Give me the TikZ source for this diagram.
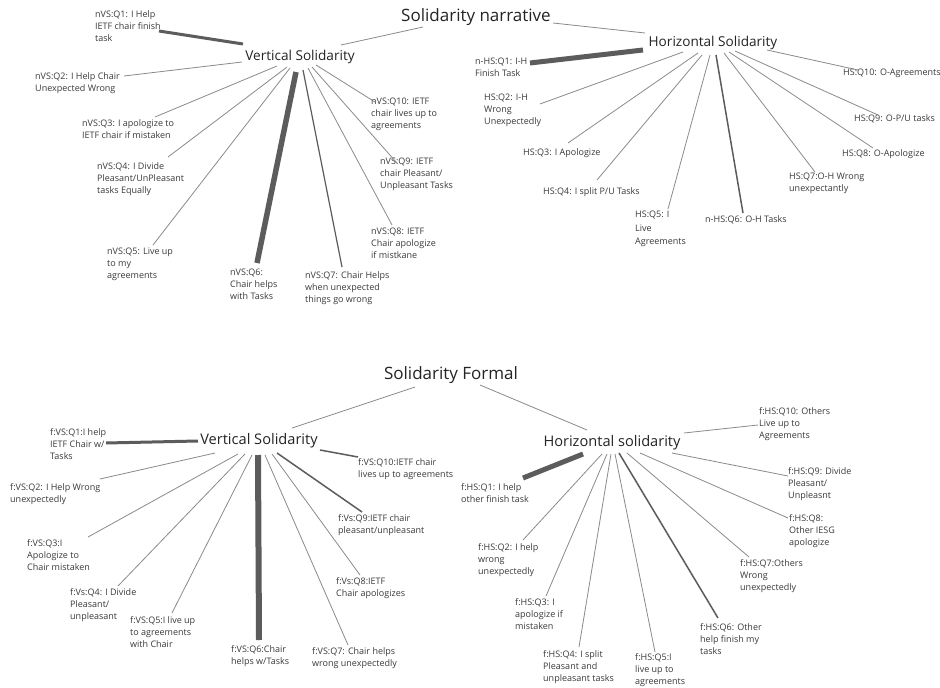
\documentclass[tikz,border=0pt]{standalone}
\usepackage{fontspec}
\setmainfont{Open Sans}
\definecolor{ink}{HTML}{3A3A3A}
\definecolor{titleink}{HTML}{242424}
\definecolor{spokegray}{HTML}{8A8A8A}
\definecolor{spokedark}{HTML}{5C5C5C}
\begin{document}
\begin{tikzpicture}[x=1pt,y=-1pt,
  title/.style={font=\fontsize{17}{20}\selectfont, text=titleink, inner sep=0pt},
  hub/.style={font=\fontsize{13.6}{16}\selectfont, text=titleink, inner sep=0pt},
  hubf/.style={font=\fontsize{14.6}{17}\selectfont, text=titleink, inner sep=0pt},
  lbl/.style={font=\fontsize{9}{12}\selectfont, align=left, anchor=north west, inner sep=0pt, text=ink, yshift=0.5pt},
  spoke/.style={draw=spokegray, line width=0.8pt},
  spokemid/.style={draw=spokedark, line width=1.5pt},
  spokebold/.style={draw=spokedark, line width=3pt},
  spokeheavy/.style={draw=spokedark, line width=5.5pt}]

\fill[white] (0,0) rectangle (940,688);
\useasboundingbox (0,0) rectangle (940,688);

%% ---------------- Solidarity narrative ----------------
\node[title] (tn) at (476,17) {Solidarity narrative};
\node[hub] (nvs) at (300,57) {Vertical Solidarity};
\node[hub] (nhs) at (713,43) {Horizontal Solidarity};

\coordinate (tn-l) at (423,27);  \coordinate (nvs-t) at (341,45);
\coordinate (tn-r) at (553,23);  \coordinate (nhs-t) at (645,33);
\draw[spoke] (tn-l) -- (nvs-t);
\draw[spoke] (tn-r) -- (nhs-t);

% narrative, vertical
\node[lbl] (nv1) at (95,10.5)   {nVS:Q1: I Help\\IETF chair finish\\task};
\node[lbl] (nv2) at (35,72.5)   {nVS:Q2: I Help Chair\\Unexpected Wrong};
\node[lbl] (nv3) at (82,119.5)  {nVS:Q3: I apologize to\\IETF chair if mistaken};
\node[lbl] (nv4) at (97,162.5)  {nVS:Q4: I Divide\\Pleasant/UnPleasant\\tasks Equally};
\node[lbl] (nv5) at (107,248.5) {nVS:Q5: Live up\\to my\\agreements};
\node[lbl] (nv6) at (230,269.5) {nVS:Q6:\\Chair helps\\with Tasks};
\node[lbl] (nv7) at (305,271.5) {nVS:Q7: Chair Helps\\when unexpected\\things go wrong};
\node[lbl] (nv8) at (371,228.5) {nVS:Q8: IETF\\Chair apologize\\if mistkane};
\node[lbl] (nv9) at (380,158.5) {nVS:Q9: IETF\\chair Pleasant/\\Unpleasant Tasks};
\node[lbl] (nv10) at (371,98.5) {nVS:Q10: IETF\\chair lives up to\\agreements};

\coordinate (nvs-1) at (243,44);  \coordinate (nv1-e) at (159,31);
\coordinate (nvs-2) at (242,62);  \coordinate (nv2-e) at (124,76);
\coordinate (nvs-3) at (277,66);  \coordinate (nv3-e) at (155,117);
\coordinate (nvs-4) at (287,67);  \coordinate (nv4-e) at (168,157);
\coordinate (nvs-5) at (290,68);  \coordinate (nv5-e) at (153,245);
\coordinate (nvs-6) at (296,72);  \coordinate (nv6-e) at (257,263);
\coordinate (nvs-7) at (303,70);  \coordinate (nv7-e) at (342,267);
\coordinate (nvs-8) at (308,68);  \coordinate (nv8-e) at (392,225);
\coordinate (nvs-9) at (312,67);  \coordinate (nv9-e) at (397,163);
\coordinate (nvs-10) at (316,65); \coordinate (nv10-e) at (375,102);
\draw[spokebold]  (nvs-1) -- (nv1-e);
\draw[spoke]      (nvs-2) -- (nv2-e);
\draw[spoke]      (nvs-3) -- (nv3-e);
\draw[spoke]      (nvs-4) -- (nv4-e);
\draw[spoke]      (nvs-5) -- (nv5-e);
\draw[spokeheavy] (nvs-6) -- (nv6-e);
\draw[spokemid,line width=1.2pt] (nvs-7) -- (nv7-e);
\draw[spoke]      (nvs-8) -- (nv8-e);
\draw[spoke]      (nvs-9) -- (nv9-e);
\draw[spoke]      (nvs-10) -- (nv10-e);

% narrative, horizontal
\node[lbl] (nh1) at (475,58.5)  {n-HS:Q1: I-H\\Finish Task};
\node[lbl] (nh2) at (484,94.5)  {HS:Q2: I-H\\Wrong\\Unexpectedly};
\node[lbl] (nh3) at (523,148.5) {HS:Q3: I Apologize};
\node[lbl] (nh4) at (543,187.5) {HS:Q4: I split P/U Tasks};
\node[lbl, font=\fontsize{9}{13.3}\selectfont] (nh5) at (635,211.5) {HS:Q5: I\\Live\\Agreements};
\node[lbl] (nh6) at (705,215.5) {n-HS:Q6: O-H Tasks};
\node[lbl] (nh7) at (789,173.5) {HS:Q7:O-H Wrong\\unexpectantly};
\node[lbl] (nh8) at (842,149.5) {HS:Q8: O-Apologize};
\node[lbl] (nh9) at (854,114.5) {HS:Q9: O-P/U tasks};
\node[lbl] (nh10) at (843,69.5) {HS:Q10: O-Agreements};

\coordinate (nhs-1) at (643,50);  \coordinate (nh1-e) at (530,63);
\coordinate (nhs-2) at (683,52);  \coordinate (nh2-e) at (540,104);
\coordinate (nhs-3) at (698,53);  \coordinate (nh3-e) at (568,143);
\coordinate (nhs-4) at (702,55);  \coordinate (nh4-e) at (597,180);
\coordinate (nhs-5) at (710,55);  \coordinate (nh5-e) at (668,209);
\coordinate (nhs-6) at (716,55);  \coordinate (nh6-e) at (743,213);
\coordinate (nhs-7) at (724,53);  \coordinate (nh7-e) at (815,172);
\coordinate (nhs-8) at (729,52);  \coordinate (nh8-e) at (873,148);
\coordinate (nhs-9) at (735,51);  \coordinate (nh9-e) at (878,115);
\coordinate (nhs-10) at (767,50); \coordinate (nh10-e) at (858,70);
\draw[spokeheavy,line width=5pt] (nhs-1) -- (nh1-e);
\draw[spoke]      (nhs-2) -- (nh2-e);
\draw[spoke]      (nhs-3) -- (nh3-e);
\draw[spoke]      (nhs-4) -- (nh4-e);
\draw[spoke]      (nhs-5) -- (nh5-e);
\draw[spokemid]   (nhs-6) -- (nh6-e);
\draw[spoke]      (nhs-7) -- (nh7-e);
\draw[spoke]      (nhs-8) -- (nh8-e);
\draw[spoke]      (nhs-9) -- (nh9-e);
\draw[spoke]      (nhs-10) -- (nh10-e);

%% ---------------- Solidarity Formal ----------------
\node[title] (tf) at (451,375) {Solidarity Formal};
\node[hubf] (fvs) at (259,441) {Vertical Solidarity};
\node[hubf] (fhs) at (612,443) {Horizontal solidarity};

\coordinate (tf-l) at (415,387); \coordinate (fvs-t) at (292,428);
\coordinate (tf-r) at (480,385); \coordinate (fhs-t) at (587,430);
\draw[spoke] (tf-l) -- (fvs-t);
\draw[spoke] (tf-r) -- (fhs-t);

% formal, vertical
\node[lbl] (fv1) at (50,428.5)  {f:VS:Q1:I help\\IETF Chair w/\\Tasks};
\node[lbl] (fv2) at (10,483.5)  {f:VS:Q2: I Help Wrong\\unexpectedly};
\node[lbl] (fv3) at (27,539.5)  {f:VS:Q3:I\\Apologize to\\Chair mistaken};
\node[lbl] (fv4) at (70,588.5)  {f:Vs:Q4: I Divide\\Pleasant/\\unpleasant};
\node[lbl] (fv5) at (130,616.5) {f:VS:Q5:I live up\\to agreements\\with Chair};
\node[lbl] (fv6) at (231,645.5) {f:VS:Q6:Chair\\helps w/Tasks};
\node[lbl] (fv7) at (312,647.5) {f:VS:Q7: Chair helps\\wrong unexpectedly};
\node[lbl] (fv8) at (336,577.5) {f:Vs:Q8:IETF\\Chair apologizes};
\node[lbl] (fv9) at (338,514.5) {f:Vs:Q9:IETF chair\\pleasant/unpleasant};
\node[lbl] (fv10) at (358,458.5) {f:VS:Q10:IETF chair\\lives up to agreements};

\coordinate (fvs-1) at (198,441);  \coordinate (fv1-e) at (106,443);
\coordinate (fvs-2) at (215,453);  \coordinate (fv2-e) at (100,479);
\coordinate (fvs-3) at (238,454);  \coordinate (fv3-e) at (88,537);
\coordinate (fvs-4) at (245,454);  \coordinate (fv4-e) at (118,586);
\coordinate (fvs-5) at (252,455);  \coordinate (fv5-e) at (172,613);
\coordinate (fvs-6) at (258,455);  \coordinate (fv6-e) at (259,640);
\coordinate (fvs-7) at (265,455);  \coordinate (fv7-e) at (348,645);
\coordinate (fvs-8) at (272,454);  \coordinate (fv8-e) at (360,575);
\coordinate (fvs-9) at (277,453);  \coordinate (fv9-e) at (362,512);
\coordinate (fvs-10) at (320,450); \coordinate (fv10-e) at (358,457);
\draw[spokebold]  (fvs-1) -- (fv1-e);
\draw[spoke]      (fvs-2) -- (fv2-e);
\draw[spoke]      (fvs-3) -- (fv3-e);
\draw[spoke]      (fvs-4) -- (fv4-e);
\draw[spoke]      (fvs-5) -- (fv5-e);
\draw[spokeheavy,line width=6pt] (fvs-6) -- (fv6-e);
\draw[spoke]      (fvs-7) -- (fv7-e);
\draw[spoke]      (fvs-8) -- (fv8-e);
\draw[spokemid]   (fvs-9) -- (fv9-e);
\draw[spokemid]   (fvs-10) -- (fv10-e);

% formal, horizontal
\node[lbl] (fh1) at (461,483.5) {f:HS:Q1: I help\\other finish task};
\node[lbl] (fh2) at (478,543.5) {f:HS:Q2: I help\\wrong\\unexpectedly};
\node[lbl] (fh3) at (515,598.5) {f:HS:Q3: I\\apologize if\\mistaken};
\node[lbl] (fh4) at (543,650.5) {f:HS:Q4: I split\\Pleasant and\\unpleasant tasks};
\node[lbl] (fh5) at (635,653.5) {f:HS:Q5:I\\live up to\\agreements};
\node[lbl] (fh6) at (700,623.5) {f:HS:Q6: Other\\help finish my\\tasks};
\node[lbl] (fh7) at (740,559.5) {f:HS:Q7:Others\\Wrong\\unexpectedly};
\node[lbl] (fh8) at (789,514.5) {f:HS:Q8:\\Other IESG\\apologize};
\node[lbl] (fh9) at (788,467.5) {f:HS:Q9: Divide\\Pleasant/\\Unpleasnt};
\node[lbl] (fh10) at (759,407.5) {f:HS:Q10: Others\\Live up to\\Agreements};

\coordinate (fhs-1) at (583,454);  \coordinate (fh1-e) at (523,478);
\coordinate (fhs-2) at (602,454);  \coordinate (fh2-e) at (523,540);
\coordinate (fhs-3) at (607,454);  \coordinate (fh3-e) at (546,596);
\coordinate (fhs-4) at (611,454);  \coordinate (fh4-e) at (579,647);
\coordinate (fhs-5) at (615,454);  \coordinate (fh5-e) at (655,652);
\coordinate (fhs-6) at (619,453);  \coordinate (fh6-e) at (718,618);
\coordinate (fhs-7) at (627,453);  \coordinate (fh7-e) at (749,557);
\coordinate (fhs-8) at (640,453);  \coordinate (fh8-e) at (788,518);
\coordinate (fhs-9) at (672,453);  \coordinate (fh9-e) at (788,476);
\coordinate (fhs-10) at (684,433); \coordinate (fh10-e) at (758,425);
\draw[spokeheavy,line width=5pt] (fhs-1) -- (fh1-e);
\draw[spoke]      (fhs-2) -- (fh2-e);
\draw[spoke]      (fhs-3) -- (fh3-e);
\draw[spoke]      (fhs-4) -- (fh4-e);
\draw[spoke]      (fhs-5) -- (fh5-e);
\draw[spokemid]   (fhs-6) -- (fh6-e);
\draw[spoke]      (fhs-7) -- (fh7-e);
\draw[spoke]      (fhs-8) -- (fh8-e);
\draw[spoke]      (fhs-9) -- (fh9-e);
\draw[spoke]      (fhs-10) -- (fh10-e);
\end{tikzpicture}
\end{document}
